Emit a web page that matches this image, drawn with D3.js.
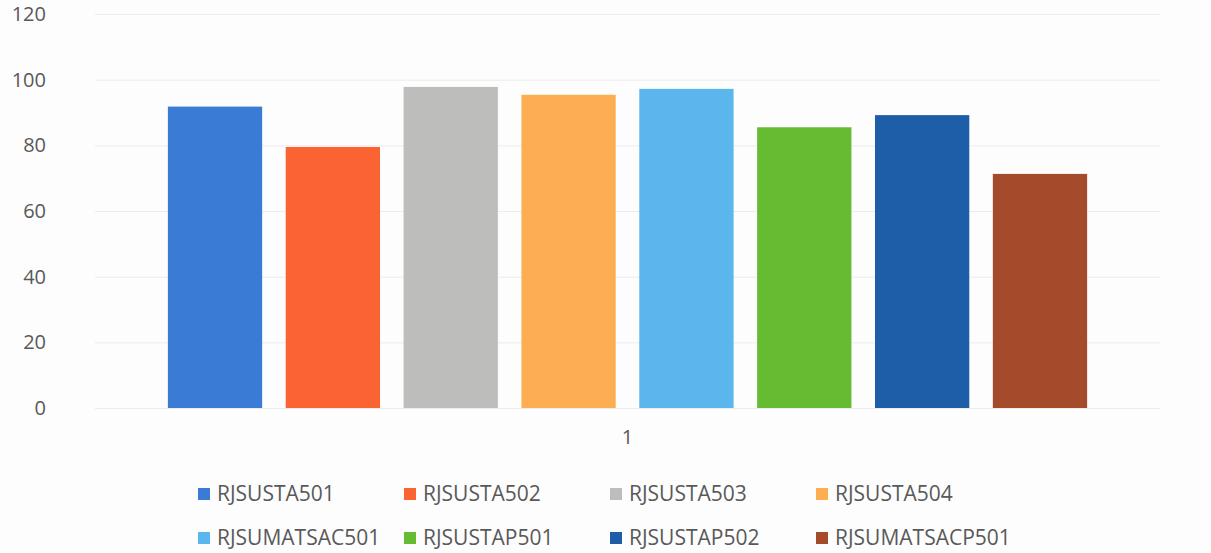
<!DOCTYPE html>
<html>
<head>
<meta charset="utf-8">
<script src="https://cdn.jsdelivr.net/npm/d3@7"></script>
<style>
  body { margin: 0; background: #fdfdfd; }
  text { font-family: "Open Sans", sans-serif; fill: #595959; }
</style>
</head>
<body>
<div id="chart-area"></div>
<script>
// data
var categories = ["1"];
var seriesNames = ["RJSUSTA501", "RJSUSTA502", "RJSUSTA503", "RJSUSTA504",
                   "RJSUMATSAC501", "RJSUSTAP501", "RJSUSTAP502", "RJSUMATSACP501"];
var seriesValues = [91.8, 79.5, 97.8, 95.4, 97.2, 85.5, 89.2, 71.3];
var seriesColors = ["#3a7bd5", "#fc6333", "#bdbdbb", "#fdad52",
                    "#5bb6ee", "#65bb31", "#1e5ea8", "#a54a2a"];
var yTicks = [0, 20, 40, 60, 80, 100, 120];

var width = 1211, height = 553;

var svg = d3.select("#chart-area").append("svg")
    .attr("width", width)
    .attr("height", height);

// plot area
var plotLeft = 95, plotRight = 1160, plotTop = 14, plotBottom = 408;

var y = d3.scaleLinear()
    .domain([0, 120])
    .range([plotBottom, plotTop]);

var x0 = d3.scaleBand()
    .domain(categories)
    .range([plotLeft, plotRight])
    .paddingOuter(0.0648);

var x1 = d3.scaleBand()
    .domain(seriesNames)
    .range([0, x0.bandwidth()])
    .paddingInner(0.2)
    .paddingOuter(0.1);

// gridlines
svg.append("g")
    .selectAll("line")
    .data(yTicks)
    .enter().append("line")
    .attr("x1", plotLeft)
    .attr("x2", plotRight)
    .attr("y1", function(d) { return y(d) + 0.5; })
    .attr("y2", function(d) { return y(d) + 0.5; })
    .attr("stroke", "#ececec")
    .attr("stroke-width", 1);

// y axis (labels only)
var yAxis = d3.axisLeft(y)
    .tickValues(yTicks)
    .tickSize(0)
    .tickPadding(0);

var yAxisGroup = svg.append("g")
    .attr("class", "y-axis axis")
    .attr("transform", "translate(46,0)")
    .call(yAxis);
yAxisGroup.select(".domain").remove();
yAxisGroup.selectAll("text")
    .style("font-size", "20px")
    .attr("fill", "#595959");

// x axis (category label)
var xAxis = d3.axisBottom(x0).tickSize(0).tickPadding(0);
var xAxisGroup = svg.append("g")
    .attr("class", "x-axis axis")
    .attr("transform", "translate(0,430)")
    .call(xAxis);
xAxisGroup.select(".domain").remove();
xAxisGroup.selectAll("text")
    .style("font-size", "20px")
    .attr("fill", "#595959");

// bars
var rows = seriesNames.map(function(n, i) {
    return { name: n, value: seriesValues[i], color: seriesColors[i] };
});

svg.append("g")
    .attr("transform", "translate(" + x0("1") + ",0)")
    .selectAll("rect")
    .data(rows)
    .enter().append("rect")
    .attr("x", function(d) { return x1(d.name); })
    .attr("y", function(d) { return y(d.value); })
    .attr("width", x1.bandwidth())
    .attr("height", function(d) { return y(0) - y(d.value); })
    .attr("fill", function(d) { return d.color; });

// legend, 4 per row
var legendX = [198, 404, 610, 816];
var legendY = [494, 538];

var legend = svg.append("g").attr("class", "legend")
    .selectAll("g")
    .data(rows)
    .enter().append("g")
    .attr("transform", function(d, i) {
        return "translate(" + legendX[i % 4] + "," + legendY[Math.floor(i / 4)] + ")";
    });

legend.append("rect")
    .attr("x", 0)
    .attr("y", -6)
    .attr("width", 12)
    .attr("height", 12)
    .attr("fill", function(d) { return d.color; });

legend.append("text")
    .attr("x", 19)
    .attr("y", 0)
    .attr("dy", "0.35em")
    .style("font-size", "21px")
    .text(function(d) { return d.name; });
</script>
</body>
</html>
